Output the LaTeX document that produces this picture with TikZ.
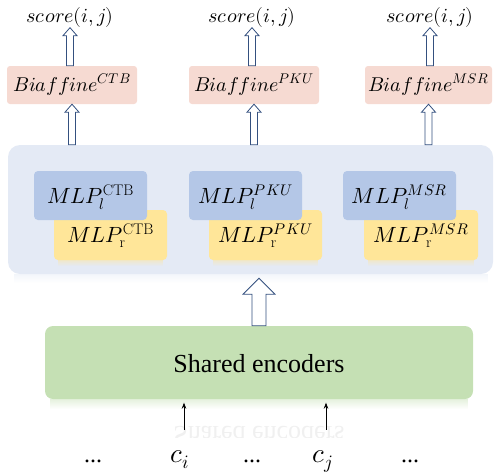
\documentclass[tikz,border=0pt]{standalone}
\usepackage{fontspec}
\usepackage{unicode-math}
\newfontfamily\timesfont{Liberation Serif}
\usetikzlibrary{calc,fadings,arrows.meta}

\definecolor{pinkbox}{HTML}{F6DAD2}
\definecolor{bluebox}{HTML}{B4C7E7}
\definecolor{yellowbox}{HTML}{FFE699}
\definecolor{greenbox}{HTML}{C5E0B4}
\definecolor{panel}{HTML}{E4EAF5}
\definecolor{arrowline}{HTML}{34507F}

% hollow block arrow: shaft from the top of #1 up to the point #2
% #3 half shaft width, #4 half head width, #5 head length
\newcommand\hollowarrow[5]{%
  \draw[hollow] let \p1=(#1.north), \p2=(#2) in
    (\x2-#3,\y1) -- (\x2-#3,\y2-#5) -- (\x2-#4,\y2-#5) -- (\x2,\y2)
    -- (\x2+#4,\y2-#5) -- (\x2+#3,\y2-#5) -- (\x2+#3,\y1) -- cycle;}

\begin{document}
\begin{tikzpicture}[x=1pt,y=-1pt,
  hollow/.style={draw=arrowline, fill=white, line width=0.8pt, line join=miter},
  scoretxt/.style={inner sep=0.5pt, font=\fontsize{20}{22}\selectfont},
  biaf/.style={fill=pinkbox, rounded corners=3pt, minimum width=130pt,
    minimum height=38pt, text height=16pt, text depth=4pt, inner sep=0pt,
    font=\fontsize{20}{22}\selectfont},
  mlpl/.style={fill=bluebox, rounded corners=4pt, minimum width=113pt,
    minimum height=49pt, text height=19pt, text depth=4pt, inner sep=0pt,
    font=\fontsize{22}{24}\selectfont},
  mlpr/.style={mlpl, fill=yellowbox, minimum height=50pt},
  chartxt/.style={anchor=base, inner sep=0pt, font=\fontsize{27}{30}\selectfont},
  dotstxt/.style={anchor=base, inner sep=0pt, font=\timesfont\fontsize{24}{28}\selectfont},
  thinarrow/.style={-{Stealth[length=6pt,width=4.5pt]}, line width=0.7pt},
  glow/.style={path fading=south, opacity=0.45}]

\useasboundingbox (0,0) rectangle (494,475);

% outputs
\node[scoretxt] (s1) at (70,17) {$score(i,j)$};
\node[scoretxt] (s2) at (252,17) {$score(i,j)$};
\node[scoretxt] (s3) at (430,17) {$score(i,j)$};

% biaffine scorers
\node[biaf] (b1) at (72,85) {$Biaffine^{CTB}$};
\node[biaf] (b2) at (254,85) {$Biaffine^{PKU}$};
\node[biaf, minimum width=127pt] (b3) at (428.5,85) {$Biaffine^{MSR}$};

% panel holding the MLP layers
\fill[panel, glow] (14,274) rectangle (488,283);
\node[fill=panel, rounded corners=12pt, minimum width=485pt,
  minimum height=129pt, inner sep=0pt] (pool) at (250.5,209.5) {};

\fill[yellowbox, glow] (58,260) rectangle (163,266);
\fill[yellowbox, glow] (213,260) rectangle (318,266);
\fill[yellowbox, glow] (368,260) rectangle (474,266);

\node[mlpr] (r1) at (110.5,235) {$MLP_{\mathrm{r}}^{\mathrm{CTB}}$};
\node[mlpl] (l1) at (90.5,195.5) {$MLP_{l}^{\mathrm{CTB}}$};
\node[mlpr] (r2) at (265.5,235) {$MLP_{\mathrm{r}}^{PKU}$};
\node[mlpl] (l2) at (245.5,195.5) {$MLP_{l}^{PKU}$};
\node[mlpr, minimum width=114pt] (r3) at (421,235) {$MLP_{\mathrm{r}}^{MSR}$};
\node[mlpl] (l3) at (399.5,195.5) {$MLP_{l}^{MSR}$};

% shared encoder and its faint reflection
\fill[greenbox, glow] (50,399) rectangle (468,409);
\begin{scope}
  \clip (45,400) rectangle (473,437);
  \node[yscale=-1, text=black!6, minimum width=428pt, minimum height=73pt,
    font=\timesfont\fontsize{26}{30}\selectfont, text height=24pt,
    text depth=5pt] (encmirror) at (259,435.5) {Shared encoders};
\end{scope}
\node[fill=greenbox, rounded corners=8pt, minimum width=428pt,
  minimum height=73pt, inner sep=0pt,
  font=\timesfont\fontsize{26}{30}\selectfont, text height=24pt,
  text depth=5pt] (enc) at (259,362.5) {Shared encoders};

% input characters
\node[dotstxt] (d1) at (93,462) {...};
\node[chartxt] (ci) at (180,462) {$c_i$};
\node[dotstxt] (d2) at (252,462) {...};
\node[chartxt] (cj) at (323,462) {$c_j$};
\node[dotstxt] (d3) at (410,462) {...};

\draw[thinarrow, shorten <=20pt, shorten >=3.5pt]
  ([xshift=4pt]ci.north) -- ([xshift=4pt]ci.north |- enc.south);
\draw[thinarrow, shorten <=20pt, shorten >=3.5pt]
  ([xshift=3pt]cj.north) -- ([xshift=3pt]cj.north |- enc.south);

% block arrows
\hollowarrow{enc}{$(pool.south -| enc.north)+(0,4)$}{7pt}{16pt}{16pt}
\hollowarrow{pool}{b1.south}{3.5pt}{7pt}{8pt}
\hollowarrow{pool}{b2.south}{3.5pt}{7pt}{8pt}
\hollowarrow{pool}{b3.south}{3.5pt}{7pt}{8pt}
\hollowarrow{b1}{s1.south}{3.5pt}{7pt}{8pt}
\hollowarrow{b2}{s2.south}{3.5pt}{7pt}{8pt}
\hollowarrow{b3}{s3.south}{3.5pt}{7pt}{8pt}

\end{tikzpicture}
\end{document}
